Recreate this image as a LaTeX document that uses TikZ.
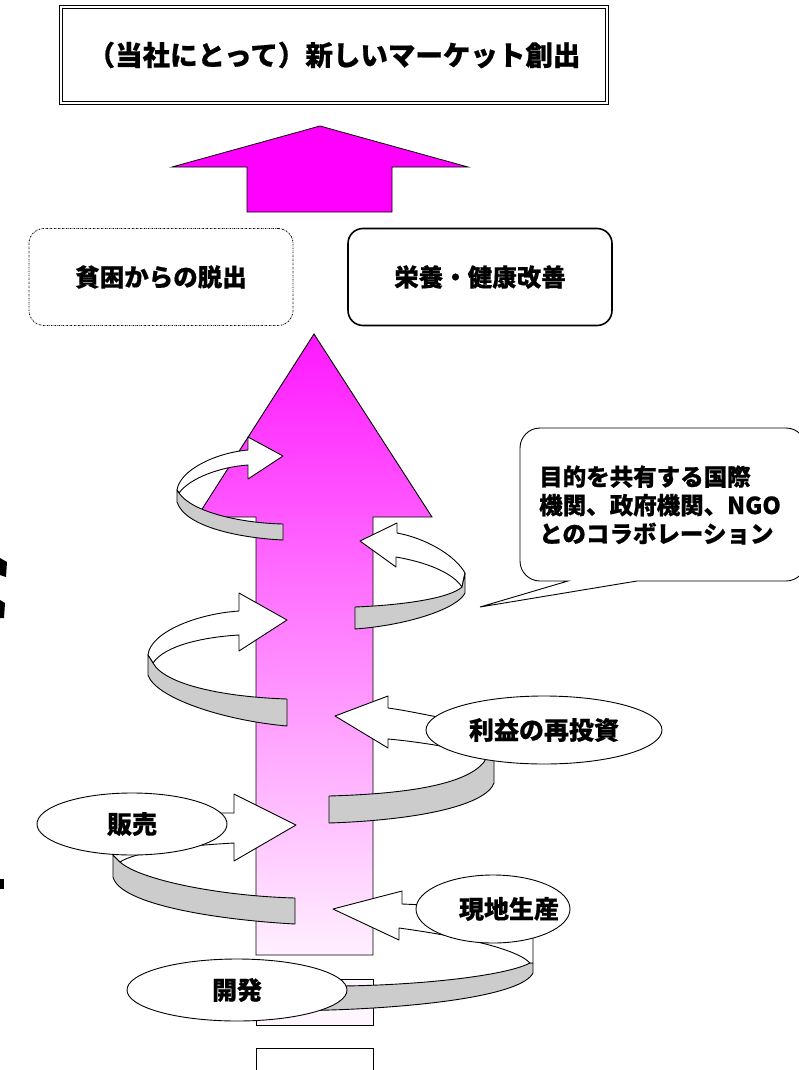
\documentclass[tikz,border=0pt]{standalone}
\usepackage{fontspec}
\newfontfamily\jpfont{Noto Sans CJK JP}[BoldFeatures={FakeBold=0.6}]
\usetikzlibrary{shapes.geometric}
\definecolor{arrowtop}{RGB}{255,25,255}
\definecolor{arrowbot}{RGB}{255,240,255}
\definecolor{topmagenta}{RGB}{255,0,255}
\definecolor{bandgray}{RGB}{204,204,204}

\begin{document}
\begin{tikzpicture}[x=1pt,y=-1pt,
    headbox/.style ={draw, double, double distance=2.5pt, line width=1.2pt, inner sep=0pt,
      minimum width=546pt, minimum height=96pt, font=\jpfont\bfseries\fontsize{27.5}{30}\selectfont},
    goalbox/.style ={draw, rounded corners=15pt, inner sep=0pt, minimum width=264pt,
      minimum height=97pt, font=\jpfont\bfseries\fontsize{24.5}{28}\selectfont},
    stage/.style ={ellipse, draw, fill=white, line width=0.9pt, inner sep=0pt,
      font=\jpfont\bfseries\fontsize{25}{28}\selectfont},
    ribbon/.style ={draw, fill=white, line width=0.9pt, line join=round},
    band/.style ={draw, fill=bandgray, line width=0.9pt, line join=round}]
   \useasboundingbox (0,0) rectangle (798,1070);
   \node[headbox] (title) at (334,55) {（当社にとって）新しいマーケット創出};
   \draw[fill=topmagenta, line width=0.8pt] (247,212) -- (247,167) -- (172,167) -- (320,126)
      -- (468,167) -- (392,167) -- (392,212) -- cycle;
   \node[goalbox, line width=0.8pt, dash pattern=on 1.5pt off 1pt on 0.4pt off 1pt] (poverty) at (161,277) {貧困からの脱出};
   \node[goalbox, line width=1.6pt] (nutrition) at (480,277) {栄養・健康改善};
   \draw[top color=arrowtop, bottom color=arrowbot, line width=0.9pt] (256,955) -- (256,517)
      -- (197,517) -- (314,334) -- (432,517) -- (373,517) -- (373,955) -- cycle;
   \draw[fill=arrowbot!60!white, line width=0.9pt] (256,979) rectangle (373,1025);
   \draw[fill=white, line width=0.9pt] (256,1048) rectangle (373,1076);
   \draw[ribbon] (248,450) -- (248,437) -- (283,456) -- (248,479) -- (248,465)
      .. controls (220,467) and (190,478) .. (179,493) -- (177,490)
      .. controls (180,470) and (215,453) .. (248,450) -- cycle;
   \draw[band] (177,490) -- (177,502) .. controls (185,527) and (240,538) .. (283,540)
      -- (283,524) .. controls (240,523) and (192,512) .. (179,493) -- cycle;
   \draw[ribbon] (239,611) -- (239,593) -- (287,620) -- (239,651) -- (239,635)
      .. controls (205,637) and (165,645) .. (153,663) -- (148,655)
      .. controls (150,633) and (195,614) .. (239,611) -- cycle;
   \draw[band] (148,655) -- (148,675) .. controls (155,697) and (220,720) .. (287,726)
      -- (287,699) .. controls (225,697) and (165,685) .. (153,663) -- cycle;
   \draw[ribbon] (397,533) -- (397,523) -- (360,541) -- (396,567) -- (396,557)
      .. controls (425,562) and (452,572) .. (462,587) -- (465,573)
      .. controls (455,555) and (425,538) .. (397,533) -- cycle;
   \draw[band] (465,573) -- (465,593) .. controls (458,608) and (410,625) .. (355,629)
      -- (355,607) .. controls (405,605) and (450,598) .. (462,587) -- cycle;
   \draw[band] (329,796) .. controls (400,794) and (465,786) .. (484,762) -- (490,752)
      -- (494,752) -- (494,783) .. controls (486,805) and (420,820) .. (329,823) -- cycle;
   \draw[ribbon] (388,708) -- (388,696) -- (335,716) -- (388,748) -- (388,739)
      .. controls (410,741) and (430,744) .. (452,748) -- (455,720)
      .. controls (430,716) and (410,711) .. (388,708) -- cycle;
   \draw[band] (113,855) -- (113,877) .. controls (120,905) and (220,920) .. (295,924)
      -- (295,898) .. controls (220,896) and (140,880) .. (120,862) -- cycle;
   \draw[ribbon] (234,813) -- (234,794) -- (296,825) -- (234,861) -- (234,843)
      .. controls (180,846) and (135,852) .. (120,862) -- (113,855) -- (113,830)
      -- (200,813) -- cycle;
   \draw[band] (530,963) .. controls (505,976) and (420,985) .. (343,986) -- (300,987)
      -- (300,1011) -- (330,1010) .. controls (425,1007) and (522,995) .. (533,973)
      -- (533,963) -- cycle;
   \draw[ribbon] (402,904) -- (402,891) -- (333,909) -- (399,940) -- (399,928)
      .. controls (450,935) and (515,947) .. (530,963) -- (533,963) -- (533,930)
      -- (450,906) -- cycle;
   \node[stage, minimum width=236pt, minimum height=68pt] (invest) at (544,730) {利益の再投資};
   \node[stage, minimum width=190pt, minimum height=62pt] (sales) at (132,824) {販売};
   \node[stage, minimum width=154pt, minimum height=68pt] (local) at (493,909) {\hspace*{16pt}現地生産\hspace*{-16pt}};
   \node[stage, minimum width=220pt, minimum height=62pt] (develop) at (237,990) {開発};
   \draw[fill=white, line width=0.9pt] (568,581) [rounded corners=20pt] -- (520,581) -- (520,428)
      -- (806,428) -- (806,581) [sharp corners] -- (637,581) -- (480,607) -- cycle;
   \node[anchor=west, align=left, inner sep=0pt, font=\jpfont\bfseries\fontsize{23.5}{28.5}\selectfont]
      (collab) at (539,505) {目的を共有する国際\\機関、政府機関、NGO\\とのコラボレーション};
   \fill (0,558) -- (7,562) -- (6,577) -- (0,575) -- cycle;
   \fill (0,600) -- (5,603) -- (4,618) -- (0,618) -- cycle;
   \fill (0,879) -- (4,879) -- (4,889) -- (0,889) -- cycle;
 \end{tikzpicture}
\end{document}
